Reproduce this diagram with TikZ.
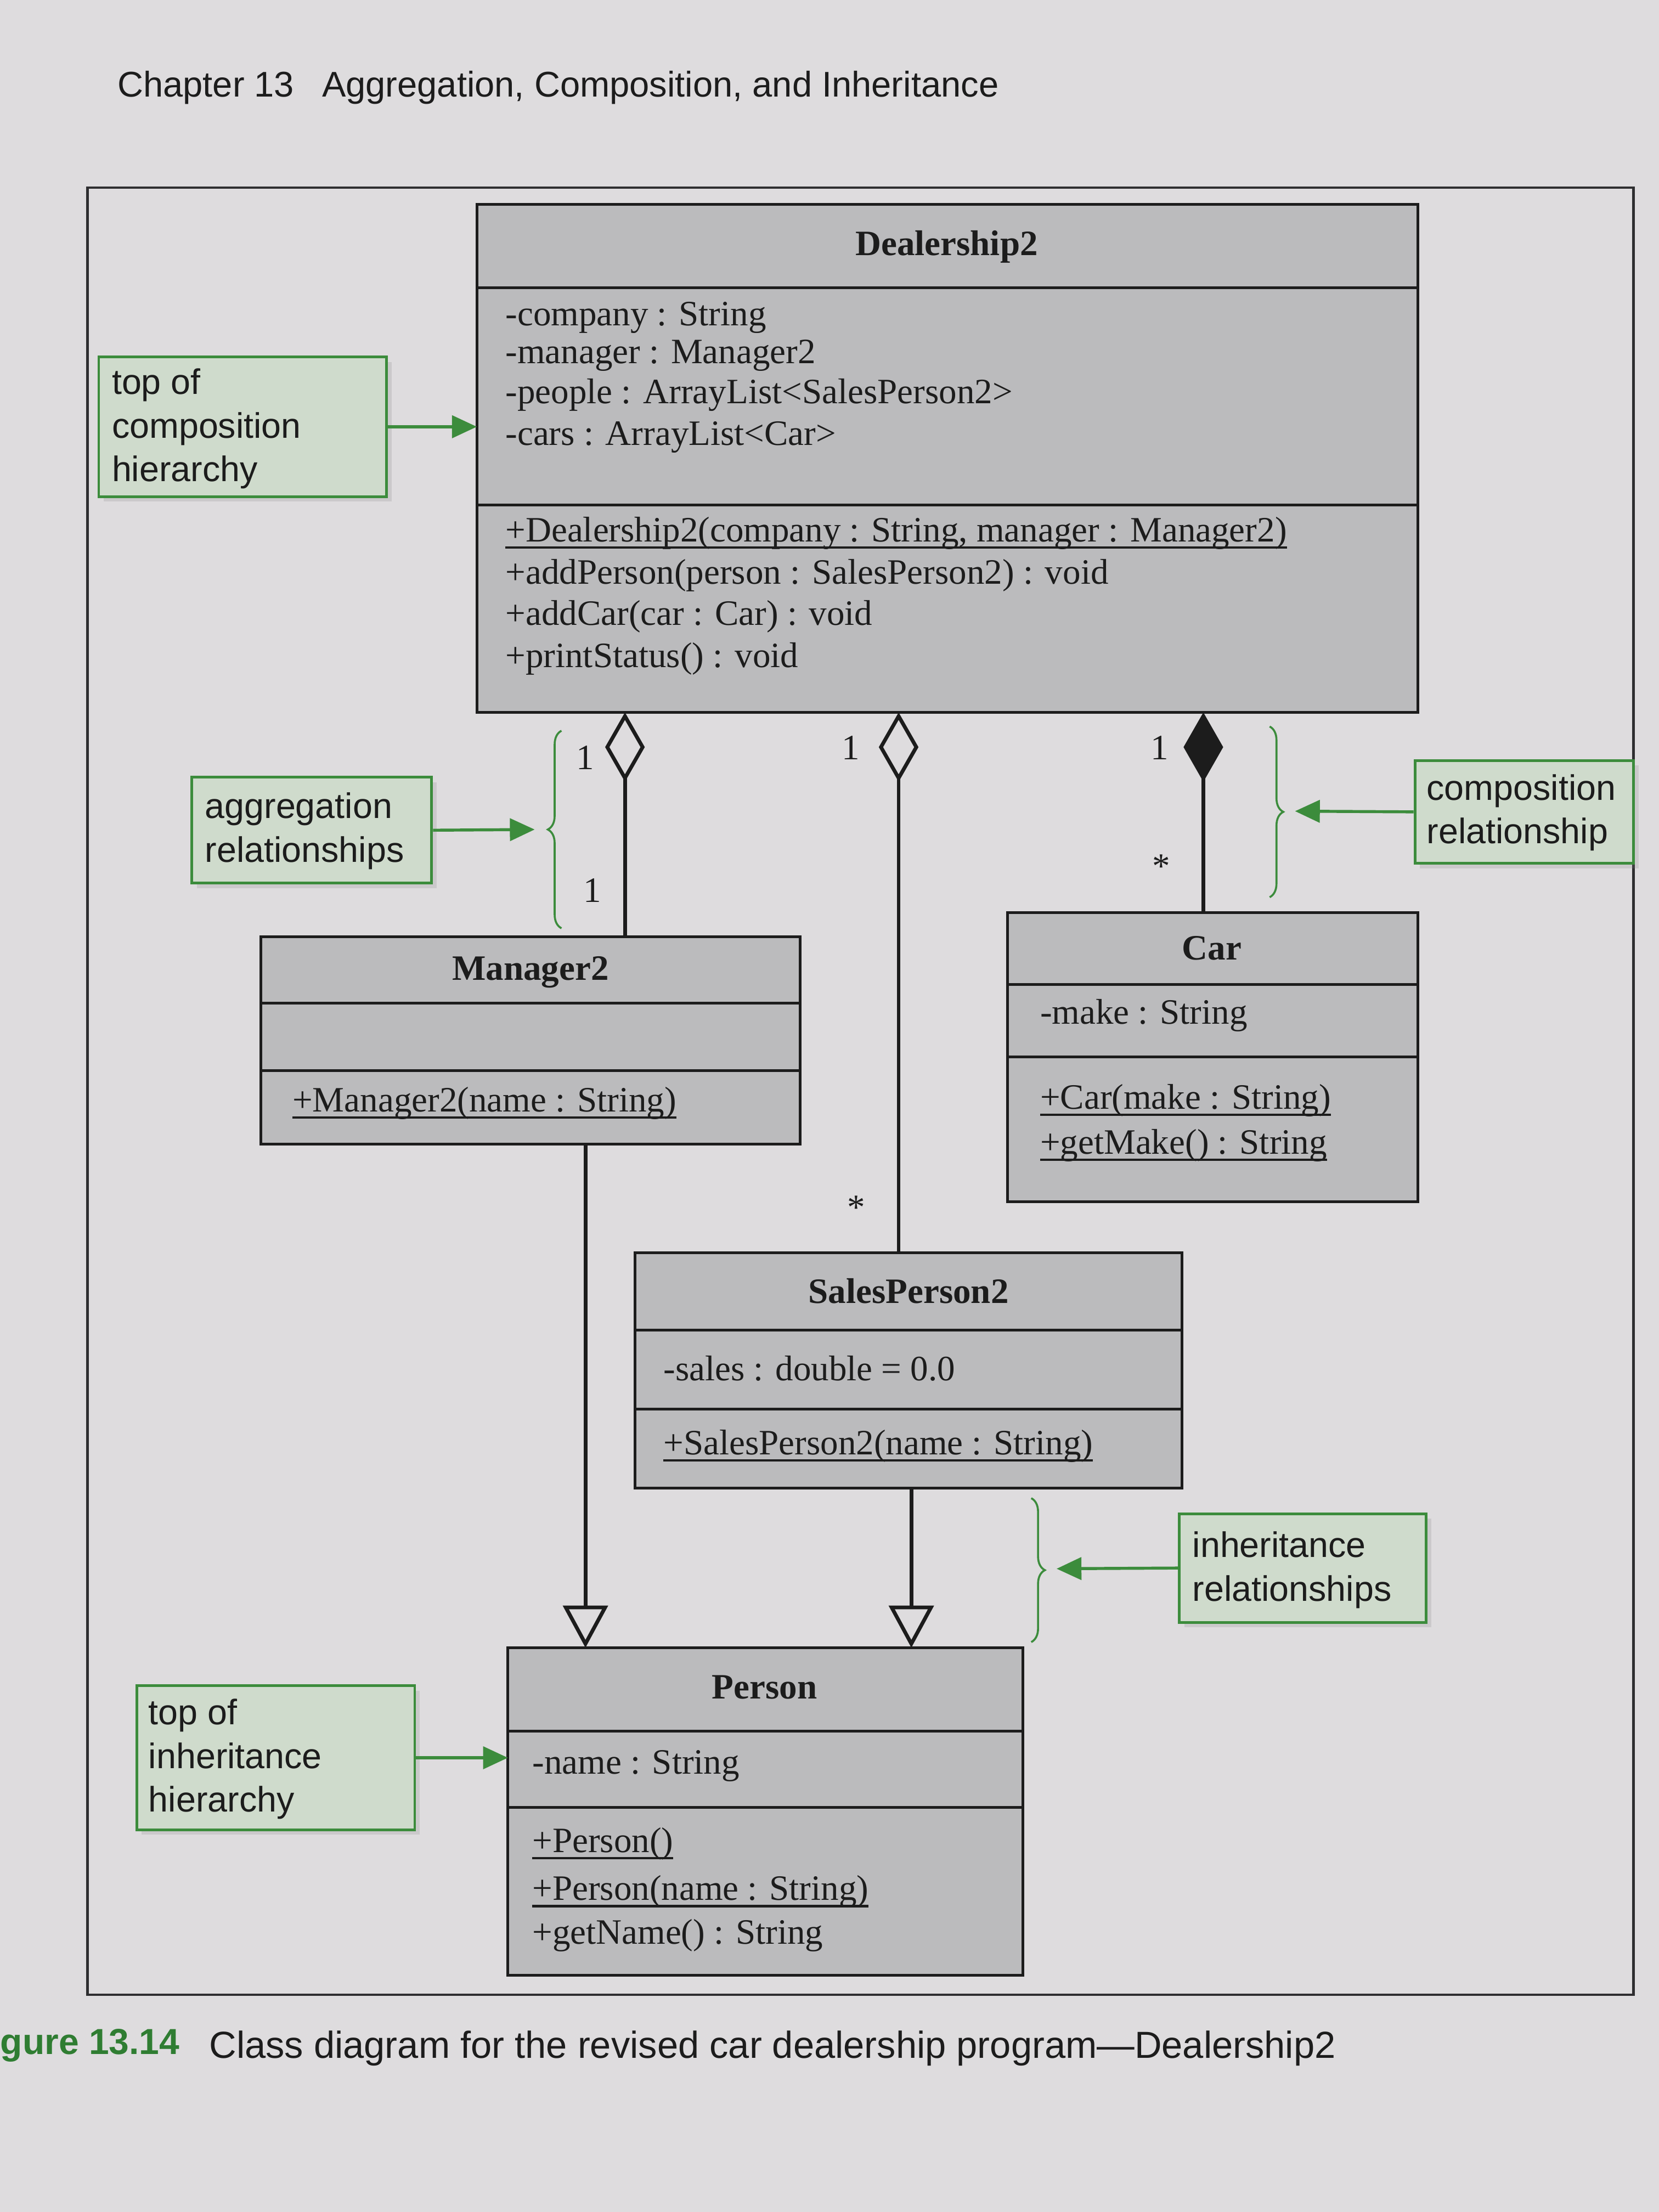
\documentclass[tikz,border=0pt]{standalone}
\usepackage{fontspec}
\setmainfont{Liberation Serif}
\newfontfamily\callfont{Liberation Sans}
\usetikzlibrary{arrows.meta, decorations.pathreplacing, shadows, fit}

\definecolor{paper}{HTML}{DEDCDE}
\definecolor{classfill}{HTML}{BBBBBD}
\definecolor{notefill}{HTML}{CFDBCC}
\definecolor{notegreen}{HTML}{3C8C3C}
\definecolor{capgreen}{HTML}{2F7D32}
\definecolor{ink}{HTML}{1C1C1C}
\definecolor{framegrey}{HTML}{2E2E30}

% underline for class-scope members, a little heavier than \underline
\newcommand{\classscope}[1]{\setbox0\hbox{#1}\rlap{\rule[-2.8pt]{\wd0}{0.95pt}}\box0}

\begin{document}
\begin{tikzpicture}[x=0.02cm, y=-0.02cm,
  umlbox/.style={draw=ink, line width=1.1pt, fill=classfill, inner sep=0pt, outer sep=0pt},
  divider/.style={draw=ink, line width=1.1pt},
  cname/.style={font=\fontsize{14.4}{16}\selectfont\bfseries, text=ink, inner sep=0pt},
  member/.style={font=\fontsize{14.4}{16}\selectfont, text=ink, anchor=west, inner sep=0pt},
  mult/.style={font=\fontsize{14.4}{16}\selectfont, text=ink, inner sep=0pt},
  note/.style={draw=notegreen, line width=1.1pt, fill=notefill, inner sep=0pt,
    drop shadow={shadow xshift=2pt, shadow yshift=-2pt, opacity=0.2}},
  notetext/.style={font=\callfont\fontsize{14.3}{17.6}\selectfont, text=ink, anchor=west,
    align=left, inner sep=0pt},
  pointer/.style={draw=notegreen, line width=1.2pt, -{Triangle[length=10pt, width=9pt]}},
  bracket/.style={draw=notegreen, line width=0.8pt, decorate, decoration={brace, amplitude=5.5pt}},
  assoc/.style={draw=ink, line width=1.5pt},
  aggr/.style={assoc, {Diamond[open, length=28pt, width=16pt]}-},
  comp/.style={assoc, {Diamond[length=28pt, width=16pt]}-},
  inherit/.style={assoc, -{Triangle[open, length=17pt, width=18pt]}},
  frameline/.style={draw=framegrey, line width=1pt},
  headfont/.style={font=\callfont\fontsize{14.4}{17}\selectfont, text=ink, inner sep=0pt, anchor=west},
]
% page
\useasboundingbox (0,0) rectangle (1176,1568);
\fill[paper] (0,0) rectangle (1176,1568);

% running head
\node[headfont] (chapnum) at (83,62) {Chapter 13};
\node[headfont] (chaptitle) at (228,62) {Aggregation, Composition, and Inheritance};

% figure frame
\draw[frameline] (62,133) rectangle (1158,1414);

% ---------------- classes ----------------
% Dealership2
\node[umlbox, fit={(338,145) (1005,505)}] (dealer) {};
\draw[divider] (338,204) -- (1005,204);
\draw[divider] (338,358) -- (1005,358);
\node[cname] (dealerName) at (671,175) {Dealership2};
\node[member] (dCompany) at (358,225) {-company : String};
\node[member] (dManager) at (358,252) {-manager : Manager2};
\node[member] (dPeople) at (358,280) {-people : ArrayList<SalesPerson2>};
\node[member] (dCars) at (358,310) {-cars : ArrayList<Car>};
\node[member] (dCtor) at (358,378) {\classscope{+Dealership2(company : String, manager : Manager2)}};
\node[member] (dAddPerson) at (358,408) {+addPerson(person : SalesPerson2) : void};
\node[member] (dAddCar) at (358,437) {+addCar(car : Car) : void};
\node[member] (dPrint) at (358,467) {+printStatus() : void};

% Manager2
\node[umlbox, fit={(185,664) (567,811)}] (mgr) {};
\draw[divider] (185,711) -- (567,711);
\draw[divider] (185,759) -- (567,759);
\node[cname] (mgrName) at (376,689) {Manager2};
\node[member] (mCtor) at (207,782) {\classscope{+Manager2(name : String)}};

% Car
\node[umlbox, fit={(714,647) (1005,852)}] (car) {};
\draw[divider] (714,698) -- (1005,698);
\draw[divider] (714,749) -- (1005,749);
\node[cname] (carName) at (859,672) {Car};
\node[member] (cMake) at (737,720) {-make : String};
\node[member] (cCtor) at (737,780) {\classscope{+Car(make : String)}};
\node[member] (cGet) at (737,812) {\classscope{+getMake() : String}};

% SalesPerson2
\node[umlbox, fit={(450,888) (838,1055)}] (sales) {};
\draw[divider] (450,943) -- (838,943);
\draw[divider] (450,999) -- (838,999);
\node[cname] (salesName) at (644,915) {SalesPerson2};
\node[member] (sSales) at (470,970) {-sales : double = 0.0};
\node[member] (sCtor) at (470,1025) {\classscope{+SalesPerson2(name : String)}};

% Person
\node[umlbox, fit={(360,1168) (725,1400)}] (person) {};
\draw[divider] (360,1227) -- (725,1227);
\draw[divider] (360,1281) -- (725,1281);
\node[cname] (personName) at (542,1196) {Person};
\node[member] (pName) at (377,1252) {-name : String};
\node[member] (pCtor) at (377,1307) {\classscope{+Person()}};
\node[member] (pCtorName) at (377,1341) {\classscope{+Person(name : String)}};
\node[member] (pGet) at (377,1372) {+getName() : String};

% ---------------- relationships ----------------
\coordinate (xAggM) at (443,0);
\coordinate (xAggS) at (637,0);
\coordinate (xComp) at (853,0);
\coordinate (xInhM) at (415,0);
\coordinate (xInhS) at (646,0);

\draw[aggr] (dealer.south -| xAggM) -- (mgr.north -| xAggM);
\draw[aggr] (dealer.south -| xAggS) -- (sales.north -| xAggS);
\draw[comp] (dealer.south -| xComp) -- (car.north -| xComp);
\draw[inherit] (mgr.south -| xInhM) -- (person.north -| xInhM);
\draw[inherit] (sales.south -| xInhS) -- (person.north -| xInhS);

% multiplicities
\node[mult] (mMgrTop) at (415,537) {1};
\node[mult] (mMgrBot) at (420,631) {1};
\node[mult] (mSalesTop) at (603,530) {1};
\node[mult] (mSalesBot) at (607,856) {*};
\node[mult] (mCarTop) at (822,530) {1};
\node[mult] (mCarBot) at (823,614) {*};

% ---------------- callouts ----------------
\node[note, fit={(70,253) (274,352)}] (noteTopComp) {};
\node[notetext] (noteTopCompText) at (79,304) {top of\\composition\\hierarchy};
\draw[pointer] (noteTopComp.east) -- (dealer.west |- noteTopComp.east);

\draw[bracket] (398,658) -- (398,518);
\coordinate (aggTip) at (379,588);
\node[note, fit={(136,551) (306,626)}] (noteAgg) {};
\node[notetext] (noteAggText) at (145,589) {aggregation\\relationships};
\draw[pointer] (noteAgg.east) -- (aggTip);

\draw[bracket] (900,515) -- (900,636);
\coordinate (compTip) at (918,575);
\node[note, fit={(1003,539) (1158,612)}] (noteComp) {};
\node[notetext] (noteCompText) at (1011,576) {composition\\relationship};
\draw[pointer] (noteComp.west) -- (compTip);

\draw[bracket] (731,1062) -- (731,1164);
\coordinate (inhTip) at (749,1112);
\node[note, fit={(836,1073) (1011,1150)}] (noteInh) {};
\node[notetext] (noteInhText) at (845,1113) {inheritance\\relationships};
\draw[pointer] (noteInh.west) -- (inhTip);

\node[note, fit={(97,1195) (294,1297)}] (noteTopInh) {};
\node[notetext] (noteTopInhText) at (105,1247) {top of\\inheritance\\hierarchy};
\draw[pointer] (noteTopInh.east) -- (person.west |- noteTopInh.east);

% ---------------- caption ----------------
\node[font=\callfont\fontsize{14.6}{18}\selectfont\bfseries, text=capgreen, inner sep=0pt, anchor=west]
  (figNum) at (0,1450) {gure 13.14};
\node[font=\callfont\fontsize{15.2}{18}\selectfont, text=ink, inner sep=0pt, anchor=west]
  (figCaption) at (148,1452) {Class diagram for the revised car dealership program—Dealership2};
\end{tikzpicture}
\end{document}
